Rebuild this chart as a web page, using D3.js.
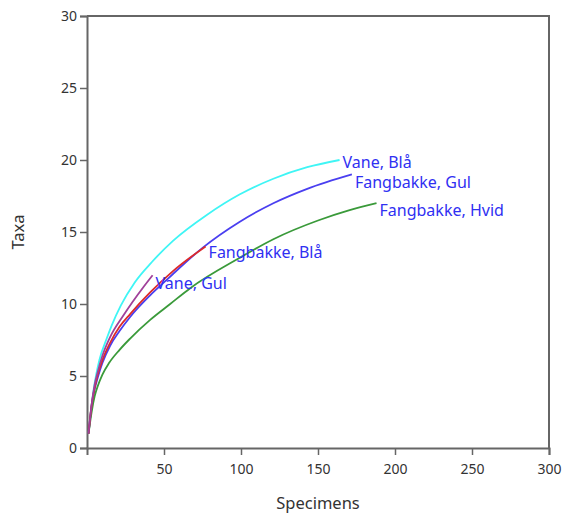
<!DOCTYPE html>
<html>
<head>
<meta charset="utf-8">
<script src="https://cdn.jsdelivr.net/npm/d3@7"></script>
<style>
  body { margin: 0; background: #fff; }
  svg { display: block; font-family: 'Noto Sans', 'Open Sans', sans-serif; }
</style>
</head>
<body>
<div id="chart"></div>
<script>
// Rarefaction curves: specimens vs taxa
const seriesNames = ['Vane, Blå', 'Fangbakke, Gul', 'Fangbakke, Hvid', 'Fangbakke, Blå', 'Vane, Gul'];
const seriesColors = ['#3ff5f5', '#4a3ff0', '#3a9a3a', '#dd2a2a', '#a0409a'];

const vaneBlaa = [[1,1],[3,3.0],[4.5,4.2],[5.8,5.0],[8,6.1],[12.8,7.6],[16,8.5],[22,9.9],[31,11.5],[42,12.9],[56,14.4],[78,16.2],[99,17.6],[121,18.7],[143,19.5],[164,20]];
const fangGul = [[1,1],[3,2.9],[5,4.1],[7,4.9],[10,5.9],[15,7.1],[21,8.1],[28,9.1],[41,10.6],[51,11.6],[56,12.1],[75,13.9],[99,15.7],[121,17.0],[143,18.0],[172,19]];
const fangHvid = [[1,1],[3,2.5],[5,3.6],[7,4.3],[10,5.1],[14.3,5.9],[21,6.8],[28,7.6],[41,8.9],[54,10.0],[67,11.1],[99,13.2],[121,14.5],[150,15.8],[170,16.5],[188,17]];
const fangBlaa = [[1,1],[3,3.0],[5,4.2],[7,5.1],[10,6.1],[15,7.3],[21,8.4],[28,9.3],[41,10.8],[56,12.3],[77,14]];
const vaneGul = [[1,1],[3,3.0],[5,4.4],[7,5.3],[10,6.4],[15,7.7],[23.6,9.2],[36.8,11.2],[42.6,12]];
const seriesData = [vaneBlaa, fangGul, fangHvid, fangBlaa, vaneGul];

const xTicks = [50, 100, 150, 200, 250, 300];
const yTicks = [0, 5, 10, 15, 20, 25, 30];

const width = 566, height = 516;
const margin = { left: 87, right: 17, top: 16, bottom: 68 };

const svg = d3.select('#chart').append('svg')
  .attr('width', width)
  .attr('height', height);

const x = d3.scaleLinear().domain([0, 300]).range([margin.left, width - margin.right]);
const y = d3.scaleLinear().domain([0, 30]).range([height - margin.bottom, margin.top]);

// frame (top + right)
svg.append('path')
  .attr('d', `M${x(0)},${y(30)}H${x(300)}V${y(0)}`)
  .attr('fill', 'none')
  .attr('stroke', '#666')
  .attr('stroke-width', 2);

const xAxis = svg.append('g')
  .attr('transform', `translate(0,${y(0)})`)
  .call(d3.axisBottom(x).tickValues(xTicks).tickSize(7).tickPadding(9));
const yAxis = svg.append('g')
  .attr('transform', `translate(${x(0)},0)`)
  .call(d3.axisLeft(y).tickValues(yTicks).tickSize(7).tickPadding(3));

[xAxis, yAxis].forEach(g => {
  g.select('.domain').attr('stroke', '#666').attr('stroke-width', 2);
  g.selectAll('.tick line').attr('stroke', '#666').attr('stroke-width', 1.5);
  g.selectAll('.tick text')
    .attr('fill', '#333')
    .attr('font-size', 14)
    .attr('font-family', "'Noto Sans', sans-serif");
});

// axis titles
svg.append('text')
  .attr('x', x(150))
  .attr('y', 509)
  .attr('text-anchor', 'middle')
  .attr('font-size', 16.5)
  .attr('fill', '#333')
  .text('Specimens');
svg.append('text')
  .attr('transform', `translate(24,${y(15)}) rotate(-90)`)
  .attr('text-anchor', 'middle')
  .attr('font-size', 16.5)
  .attr('fill', '#333')
  .text('Taxa');

const line = d3.line()
  .x(d => x(d[0]))
  .y(d => y(d[1]))
  .curve(d3.curveMonotoneX);

seriesData.forEach((data, i) => {
  svg.append('path')
    .datum(data)
    .attr('fill', 'none')
    .attr('stroke', seriesColors[i])
    .attr('stroke-width', 1.8)
    .attr('d', line);
});

// end labels, nudged down a little except the top one
const labelDy = [8, 14, 13, 12, 14];
seriesData.forEach((data, i) => {
  const last = data[data.length - 1];
  svg.append('text')
    .attr('x', x(last[0]) + 3)
    .attr('y', y(last[1]) + labelDy[i])
    .attr('font-size', 16)
    .attr('fill', '#3030f2')
    .text(seriesNames[i]);
});
</script>
</body>
</html>
